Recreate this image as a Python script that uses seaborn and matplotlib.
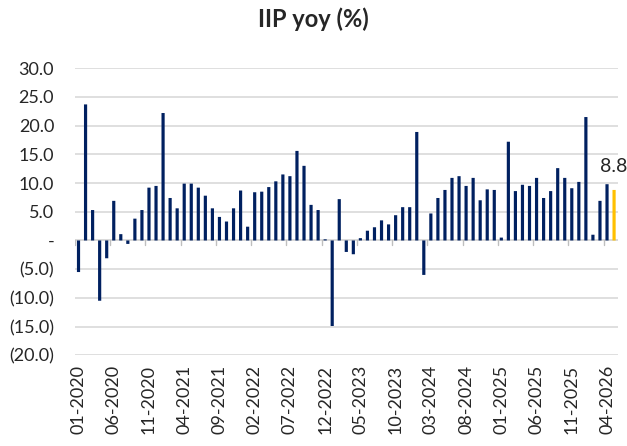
import matplotlib
matplotlib.use("Agg")
import matplotlib.pyplot as plt
import seaborn as sns
import pandas as pd
import numpy as np

# ---- data ----
months = list(pd.date_range("2020-01-01", periods=77, freq="MS").strftime("%m-%Y"))
values = [
    -5.5, 23.7, 5.3, -10.5, -3.1, 6.9, 1.1, -0.6, 3.8, 5.3,
    9.2, 9.5, 22.2, 7.4, 5.6, 9.9, 9.9, 9.2, 7.8, 5.6,
    4.1, 3.3, 5.6, 8.7, 2.4, 8.4, 8.5, 9.3, 10.3, 11.5,
    11.2, 15.6, 13.0, 6.2, 5.3, 0.2, -14.9, 7.2, -2.0, -2.4,
    0.4, 1.7, 2.3, 3.5, 2.8, 4.4, 5.8, 5.8, 18.9, -6.0,
    4.7, 7.4, 8.8, 10.9, 11.2, 9.5, 10.9, 7.0, 8.9, 8.8,
    0.5, 17.2, 8.6, 9.7, 9.5, 10.9, 7.4, 8.6, 12.6, 10.9,
    9.1, 10.2, 21.5, 1.0, 6.9, 9.8, 8.8,
]
kinds = ["actual"] * 76 + ["latest"]
yticks = [30, 25, 20, 15, 10, 5, 0, -5, -10, -15, -20]
title = "IIP yoy (%)"
label_text = "8.8"

df = pd.DataFrame({"month": months, "value": values, "kind": kinds})

sns.set_style("white")
plt.rcParams["font.family"] = ["Lato", "DejaVu Sans"]

fig = plt.figure(figsize=(6.27, 4.46), dpi=100)
ax = fig.add_axes([0.1196, 0.2034, 0.8654, 0.6436])

sns.barplot(data=df, x="month", y="value", hue="kind",
            palette={"actual": "#002060", "latest": "#FFC000"},
            dodge=False, width=0.45, legend=False, ax=ax, saturation=1)
for p in ax.patches:
    p.set_snap(False)
    p.set_linewidth(0)

ax.set_xlim(-0.5, len(months) - 0.5)
ax.set_ylim(-20, 30)
ax.set_yticks(yticks)

def fmt(v):
    if v == 0:
        return "-"
    if v < 0:
        return f"({abs(v):.1f})"
    return f"{v:.1f}"

ax.set_yticklabels([fmt(v) for v in yticks], fontsize=13)
ax.yaxis.grid(True, color="#d9d9d9", linewidth=1.2)
ax.set_axisbelow(True)
ax.tick_params(axis="y", length=0, pad=15)

major = list(range(0, len(months), 5))
ax.set_xticks(major)
ax.set_xticklabels([months[i] for i in major], rotation=90, fontsize=13)
ax.tick_params(axis="x", which="major", length=0, pad=7)
ax.axhline(0, color="#d9d9d9", linewidth=1.2, zorder=0.5)

for s in ax.spines.values():
    s.set_visible(False)
ax.set_xlabel("")
ax.set_ylabel("")

# category-boundary tick marks hanging from the zero line
for t in [i - 0.5 for i in major]:
    ax.plot([t, t], [0, -0.8], color="#bfbfbf", linewidth=1, zorder=0.6)

last = len(values) - 1
ax.annotate(label_text, (last, values[last]), xytext=(0, 11),
            textcoords="offset points", ha="center", va="bottom",
            fontsize=14, color="#262626")

fig.text(0.5, 0.958, title, ha="center", va="center", fontsize=17,
         fontweight="bold")

fig.savefig("out.png", dpi=100)
